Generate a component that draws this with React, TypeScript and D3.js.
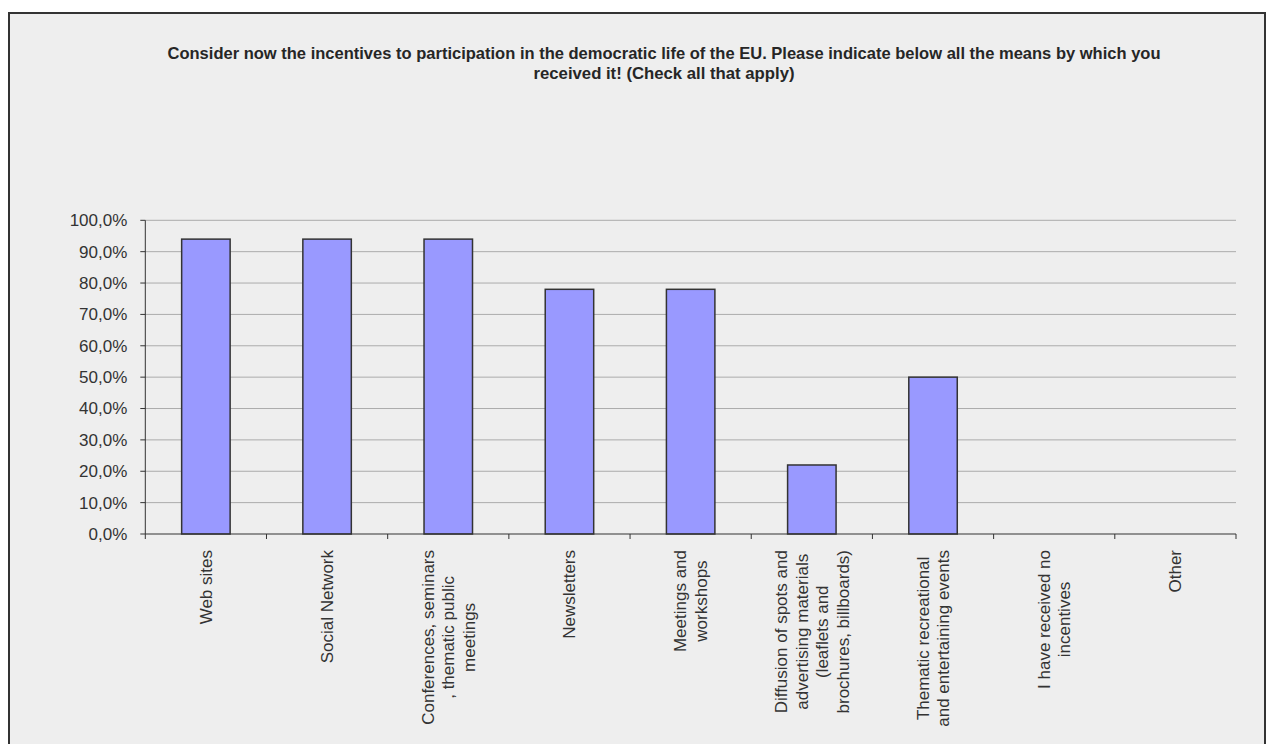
import React from "react";
import * as d3 from "d3";

const categories: string[][] = [
  ["Web sites"],
  ["Social Network"],
  ["Conferences, seminars", ", thematic public", "meetings"],
  ["Newsletters"],
  ["Meetings and", "workshops"],
  ["Diffusion of spots and", "advertising materials", "(leaflets and", "brochures, billboards)"],
  ["Thematic recreational", "and entertaining events"],
  ["I have received no", "incentives"],
  ["Other"],
];
const values: number[] = [94, 94, 94, 78, 78, 22, 50, 0, 0];
const yTicks: number[] = [0, 10, 20, 30, 40, 50, 60, 70, 80, 90, 100];
const titleLines: string[] = [
  "Consider now the incentives to participation in the democratic life of the EU. Please indicate below all the means by which you",
  "received it! (Check all that apply)",
];

const FONT = "'Liberation Sans', Arial, Helvetica, sans-serif";

let ctx: CanvasRenderingContext2D | null = null;
function measure(text: string, size: number): number {
  if (!ctx) {
    const c = document.createElement("canvas");
    ctx = c.getContext("2d");
  }
  if (!ctx) return text.length * size * 0.5;
  ctx.font = `${size}px 'Liberation Sans', Arial, sans-serif`;
  return ctx.measureText(text).width;
}

export default function App() {
  const W = 1268;
  const H = 744;
  const left = 145.3;
  const right = 1236;
  const top = 220.3;
  const bottom = 534;

  const x = d3
    .scaleBand<number>()
    .domain(categories.map((_, i) => i))
    .range([left, right])
    .paddingInner(0)
    .paddingOuter(0);
  const y = d3.scaleLinear().domain([0, 100]).range([bottom, top]);
  const bw = x.bandwidth();
  const fmt = (v: number) => v.toFixed(1).replace(".", ",") + "%";

  const labelSize = 17;
  const lineGap = 20.5;
  const labelTop = 550;

  return (
    <svg
      width={W}
      height={H}
      style={{ position: "absolute", left: 0, top: 0 }}
      fontFamily={FONT}
    >
      <rect x={0} y={0} width={W} height={H} fill="#ffffff" />
      <rect x={9} y={13} width={1256} height={800} fill="#eeeeee" stroke="#333333" strokeWidth={2} />

      {/* title */}
      {titleLines.map((t, i) => (
        <text
          key={i}
          x={664}
          y={58.5 + i * 20.5}
          textAnchor="middle"
          fontSize={17}
          fontWeight="bold"
          fill="#262626"
          textLength={i === 0 ? 993 : 261}
          lengthAdjust="spacingAndGlyphs"
        >
          {t}
        </text>
      ))}

      {/* gridlines */}
      {yTicks.slice(1).map((t) => (
        <line key={t} x1={left} x2={right} y1={y(t)} y2={y(t)} stroke="#ababab" strokeWidth={1} />
      ))}

      {/* bars */}
      {values.map((v, i) =>
        v > 0 ? (
          <rect
            key={i}
            x={(x(i) as number) + bw * 0.3}
            y={y(v)}
            width={bw * 0.4}
            height={bottom - y(v)}
            fill="#9999ff"
            stroke="#333333"
            strokeWidth={1.5}
          />
        ) : null
      )}

      {/* y axis */}
      <line x1={left} x2={left} y1={top} y2={bottom} stroke="#333333" strokeWidth={1} />
      {yTicks.map((t) => (
        <g key={t}>
          <line x1={left - 5} x2={left} y1={y(t)} y2={y(t)} stroke="#333333" strokeWidth={1} />
          <text x={127.3} y={y(t)} dy="0.35em" textAnchor="end" fontSize={17} fill="#333333">
            {fmt(t)}
          </text>
        </g>
      ))}

      {/* x axis */}
      <line x1={left} x2={right} y1={bottom} y2={bottom} stroke="#333333" strokeWidth={1} />
      {categories.map((_, i) => (
        <line
          key={i}
          x1={x(i) as number}
          x2={x(i) as number}
          y1={bottom}
          y2={bottom + 5}
          stroke="#333333"
          strokeWidth={1}
        />
      ))}
      <line x1={right} x2={right} y1={bottom} y2={bottom + 5} stroke="#333333" strokeWidth={1} />

      {/* x labels */}
      {categories.map((lines, i) => {
        const cx = (x(i) as number) + bw / 2;
        const maxW = Math.max(...lines.map((l) => measure(l, labelSize)));
        const cy = labelTop + maxW / 2;
        const n = lines.length;
        return (
          <g key={i}>
            {lines.map((l, j) => {
              const lx = cx + (j - (n - 1) / 2) * lineGap;
              return (
                <text
                  key={j}
                  transform={`translate(${lx},${cy}) rotate(-90)`}
                  textAnchor="middle"
                  dy="0.35em"
                  fontSize={labelSize}
                  fill="#333333"
                >
                  {l}
                </text>
              );
            })}
          </g>
        );
      })}
    </svg>
  );
}
